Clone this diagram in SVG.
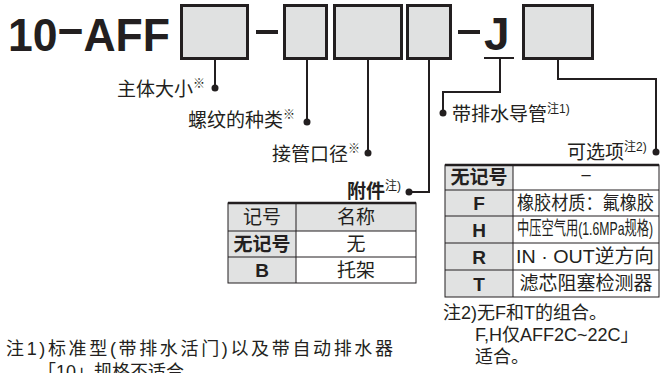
<svg xmlns="http://www.w3.org/2000/svg" width="661" height="373" viewBox="0 0 661 373">
<style>
text{font-family:"Liberation Sans","Noto Sans CJK SC",sans-serif;fill:#231f20}
.big{font-size:46px;font-weight:bold}
.lbl{font-size:19px}
.sup{font-size:12px}
.cell{font-size:19px}
.b{font-weight:bold}
.mid{text-anchor:middle}
.box{fill:#e0e1e1;stroke:#231f20;stroke-width:3}
.dash{fill:#231f20}
.ln{fill:none;stroke:#231f20;stroke-width:2}
.dot{fill:#231f20}
.g{fill:#e1e2e2}
.w{fill:#fff}
.tl{fill:none;stroke:#231f20;stroke-width:1}
.tt{stroke:#231f20;stroke-width:2.5}
.note{font-size:18px}
</style>
<g id="title">
<text class="big" x="8" y="51" textLength="162" lengthAdjust="spacingAndGlyphs">10<tspan dy="-4">−</tspan><tspan dy="4">AFF</tspan></text>
</g>
<g id="box1"><rect class="box" x="181.5" y="5.5" width="66" height="53"/></g>
<rect class="dash" x="256" y="30" width="22" height="4"/>
<g id="box2"><rect class="box" x="284.5" y="5.5" width="42" height="53"/></g>
<g id="box3"><rect class="box" x="334.5" y="5.5" width="67" height="53"/></g>
<g id="box4"><rect class="box" x="407.5" y="5.5" width="43" height="53"/></g>
<rect class="dash" x="458" y="30" width="22" height="4"/>
<g id="j"><text class="big" x="484" y="50">J</text><line class="ln" x1="484" y1="58" x2="514" y2="58"/></g>
<g id="box5"><rect class="box" x="523.5" y="5.5" width="69" height="53"/></g>

<g id="connectors">
<polyline class="ln" points="215,60 215,88"/>
<circle class="dot" cx="215" cy="88" r="3.5"/>
<polyline class="ln" points="307,60 307,122"/>
<circle class="dot" cx="307" cy="122" r="3.5"/>
<polyline class="ln" points="368,60 368,153"/>
<circle class="dot" cx="368" cy="153" r="3.5"/>
<polyline class="ln" points="429,60 429,192 409,192"/>
<circle class="dot" cx="409" cy="192" r="3.5"/>
<polyline class="ln" points="500,58 500,92 443,92 443,113"/>
<circle class="dot" cx="443" cy="113" r="3.5"/>
<polyline class="ln" points="558,60 558,79 656,79 656,152"/>
<circle class="dot" cx="656" cy="152" r="3.5"/>
</g>

<g id="label-size"><text class="lbl" x="117" y="96">主体大小<tspan class="sup" dy="-8">※</tspan></text></g>
<g id="label-thread"><text class="lbl" x="188" y="127">螺纹的种类<tspan class="sup" dy="-8">※</tspan></text></g>
<g id="label-port"><text class="lbl" x="272" y="161">接管口径<tspan class="sup" dy="-8">※</tspan></text></g>
<g id="label-acc"><text class="lbl b" x="347" y="198">附件<tspan class="sup" font-weight="normal" dy="-8">注)</tspan></text></g>
<g id="label-drain"><text class="lbl" x="452" y="121">带排水导管<tspan class="sup" dy="-8">注1)</tspan></text></g>
<g id="label-opt"><text class="lbl" x="567" y="159">可选项<tspan class="sup" dy="-8">注2)</tspan></text></g>

<g id="table-acc">
<rect class="g" x="228" y="203" width="188" height="28"/>
<rect class="g" x="228" y="231" width="68" height="52"/>
<rect class="w" x="296" y="231" width="120" height="52"/>
<rect class="tl" x="228" y="203" width="188" height="80"/>
<line class="tt" x1="228" y1="203" x2="416" y2="203"/>
<line class="tl" x1="228" y1="231" x2="416" y2="231"/>
<line class="tl" x1="228" y1="257" x2="416" y2="257"/>
<line class="tl" x1="296" y1="203" x2="296" y2="283"/>
<text class="cell mid" x="262" y="224">记号</text>
<text class="cell mid" x="356" y="224">名称</text>
<text class="cell mid b" x="262" y="251">无记号</text>
<text class="cell mid" x="356" y="251">无</text>
<text class="cell mid b" x="262" y="277" font-size="20">B</text>
<text class="cell mid" x="356" y="277">托架</text>
</g>

<g id="table-opt">
<rect class="g" x="445" y="165" width="68" height="132"/>
<rect class="w" x="513" y="165" width="146" height="132"/>
<rect class="tl" x="445" y="165" width="214" height="132"/>
<line class="tt" x1="445" y1="165" x2="659" y2="165"/>
<line class="tl" x1="445" y1="190" x2="659" y2="190"/>
<line class="tl" x1="445" y1="216" x2="659" y2="216"/>
<line class="tl" x1="445" y1="243" x2="659" y2="243"/>
<line class="tl" x1="445" y1="270" x2="659" y2="270"/>
<line class="tl" x1="513" y1="165" x2="513" y2="297"/>
<text class="cell mid b" x="479" y="184">无记号</text>
<text class="cell mid" x="586" y="182" font-size="16">−</text>
<text class="cell mid b" x="479" y="210" font-size="20">F</text>
<text class="cell" x="517" y="210" font-size="17" textLength="137" lengthAdjust="spacingAndGlyphs">橡胶材质：氟橡胶</text>
<text class="cell mid b" x="479" y="237" font-size="20">H</text>
<text class="cell" x="517" y="235" font-size="14" textLength="136" lengthAdjust="spacingAndGlyphs">中压空气用(1.6MPa规格)</text>
<text class="cell mid b" x="479" y="264" font-size="20">R</text>
<text class="cell" x="516" y="263" textLength="138" lengthAdjust="spacingAndGlyphs">IN · OUT逆方向</text>
<text class="cell mid b" x="479" y="291" font-size="20">T</text>
<text class="cell mid" x="586" y="290" font-size="17.5">滤芯阻塞检测器</text>
</g>

<g id="note2">
<text class="note" x="443" y="319">注2)无F和T的组合。</text>
<text class="note" x="475" y="341">F,H仅AFF2C~22C」</text>
<text class="note" x="475" y="363">适合。</text>
</g>
<g id="note1">
<text class="note" x="6" y="355" textLength="387" lengthAdjust="spacing">注1)标准型(带排水活门)以及带自动排水器</text>
<text class="note" x="38" y="378">「10」规格不适合。</text>
</g>
</svg>
